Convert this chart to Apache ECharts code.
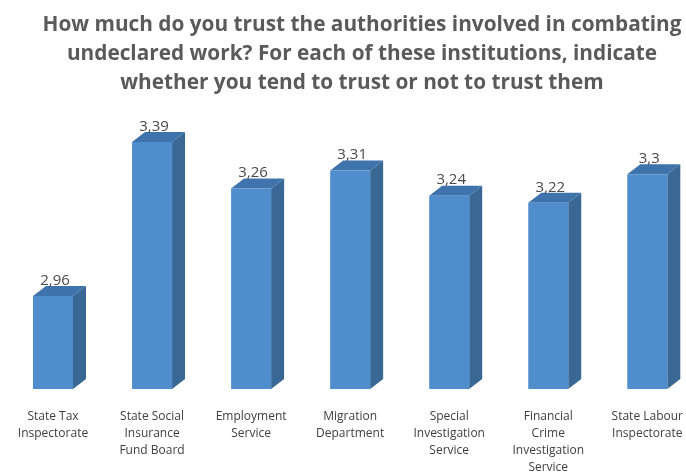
<!DOCTYPE html>
<html>
<head>
<meta charset="utf-8">
<script src="https://cdn.jsdelivr.net/npm/echarts@6/dist/echarts.min.js"></script>
<style>
  html, body { margin: 0; padding: 0; background: #ffffff; }
  #chart { width: 686px; height: 476px; }
</style>
</head>
<body>
<div id="chart"></div>
<script>
// Institutions surveyed and their mean trust score
const categories = [
  'State Tax\nInspectorate',
  'State Social\nInsurance\nFund Board',
  'Employment\nService',
  'Migration\nDepartment',
  'Special\nInvestigation\nService',
  'Financial\nCrime\nInvestigation\nService',
  'State Labour\nInspectorate'
];
const trustScores = [2.96, 3.39, 3.26, 3.31, 3.24, 3.22, 3.3];

const titleText = 'How much do you trust the authorities involved in combating\nundeclared work? For each of these institutions, indicate\nwhether you tend to trust or not to trust them';

const AXIS_MIN = 2.7;
const AXIS_MAX = 3.5;

// Pseudo-3D column geometry
const FRONT_W = 40;
const DEPTH_X = 13;
const DEPTH_Y = 10;
const FRONT_COLOR = '#4f8dcd';
const TOP_COLOR = '#3f73ab';
const SIDE_COLOR = '#386893';

function fmt(v) {
  return String(v).replace('.', ',');
}

function renderColumn(params, api) {
  const idx = api.value(0);
  const val = api.value(1);
  const top = api.coord([idx, val]);
  const base = api.coord([idx, AXIS_MIN]);
  const x0 = top[0] - FRONT_W / 2;
  const x1 = top[0] + FRONT_W / 2;
  const yT = top[1];
  const yB = base[1];
  return {
    type: 'group',
    children: [
      {
        type: 'polygon',
        shape: { points: [[x1, yT], [x1 + DEPTH_X, yT - DEPTH_Y], [x1 + DEPTH_X, yB - DEPTH_Y], [x1, yB]] },
        style: { fill: SIDE_COLOR }
      },
      {
        type: 'polygon',
        shape: { points: [[x0, yT], [x0 + DEPTH_X, yT - DEPTH_Y], [x1 + DEPTH_X, yT - DEPTH_Y], [x1, yT]] },
        style: { fill: TOP_COLOR }
      },
      {
        type: 'rect',
        shape: { x: x0, y: yT, width: FRONT_W, height: yB - yT },
        style: { fill: FRONT_COLOR }
      },
      {
        type: 'text',
        x: top[0] + 2,
        y: yT - DEPTH_Y + 2,
        style: {
          text: fmt(val),
          fill: '#4a4a4a',
          font: '15px "Open Sans", sans-serif',
          align: 'center',
          verticalAlign: 'bottom'
        }
      }
    ]
  };
}

const chart = echarts.init(document.getElementById('chart'), null, { renderer: 'canvas' });
chart.setOption({
  backgroundColor: '#ffffff',
  animation: false,
  title: {
    text: titleText,
    left: 357,
    top: 6,
    textAlign: 'center',
    textStyle: {
      fontFamily: '"Open Sans", sans-serif',
      fontWeight: 'bold',
      fontSize: 20.8,
      lineHeight: 29,
      color: '#5a5a5a'
    }
  },
  grid: { left: 53, right: 34, top: 102.6, bottom: 87 },
  xAxis: {
    type: 'category',
    data: categories,
    boundaryGap: false,
    axisLine: { show: false },
    axisTick: { show: false },
    axisLabel: {
      interval: 0,
      margin: 19,
      fontFamily: '"Open Sans", sans-serif',
      fontSize: 12,
      lineHeight: 17,
      color: '#404040',
      verticalAlign: 'top'
    }
  },
  yAxis: {
    type: 'value',
    min: AXIS_MIN,
    max: AXIS_MAX,
    show: false,
    splitLine: { show: false }
  },
  series: [{
    type: 'custom',
    renderItem: renderColumn,
    data: trustScores.map((v, i) => [i, v]),
    encode: { x: 0, y: 1 }
  }]
});
</script>
</body>
</html>
